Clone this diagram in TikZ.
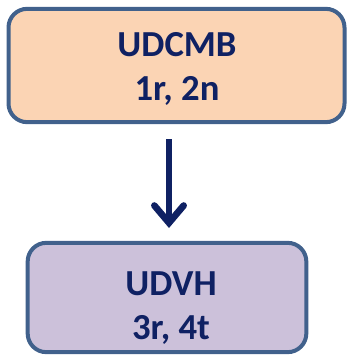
\documentclass[tikz,border=0pt]{standalone}
\usepackage{fontspec}
\setmainfont{Carlito}
\usetikzlibrary{arrows.meta}
\definecolor{unitnavy}{HTML}{0F2163}
\definecolor{unitframe}{HTML}{41618C}
\definecolor{unitpeach}{HTML}{FBD4B4}
\definecolor{unitlilac}{HTML}{CCC1DA}
\begin{document}
\begin{tikzpicture}[x=0.75pt, y=-0.75pt]
        \tikzset{
        unit box/.style={draw=unitframe,line width=3pt,rounded corners=14pt,inner sep=0},
        unit text/.style={align=center,text=unitnavy,inner sep=0,
            font=\fontsize{27.5}{32.5}\selectfont\bfseries},
        unit arrow/.style={draw=unitnavy,line width=5pt,
            -{Straight Barb[length=13pt,width=22pt,line cap=round]}}
        }
        \useasboundingbox (0,0) rectangle (346,356);
        \node[unit box, fill=unitpeach, minimum width=252pt, minimum height=85pt] (top) at (176.5, 65.5) {};
        \node[unit text] (toptext) at (177, 69) {UDCMB\\1r, 2n};
        \node[unit box, fill=unitlilac, minimum width=209pt, minimum height=82pt] (bottom) at (167, 297.5) {};
        \node[unit text] (bottomtext) at (171, 308) {UDVH\\3r, 4t};
        \coordinate (tip) at (169, 228);
        \coordinate (tail) at (169, 139);

        \path[unit arrow] (tail) -- (tip);
    \end{tikzpicture}
\end{document}
